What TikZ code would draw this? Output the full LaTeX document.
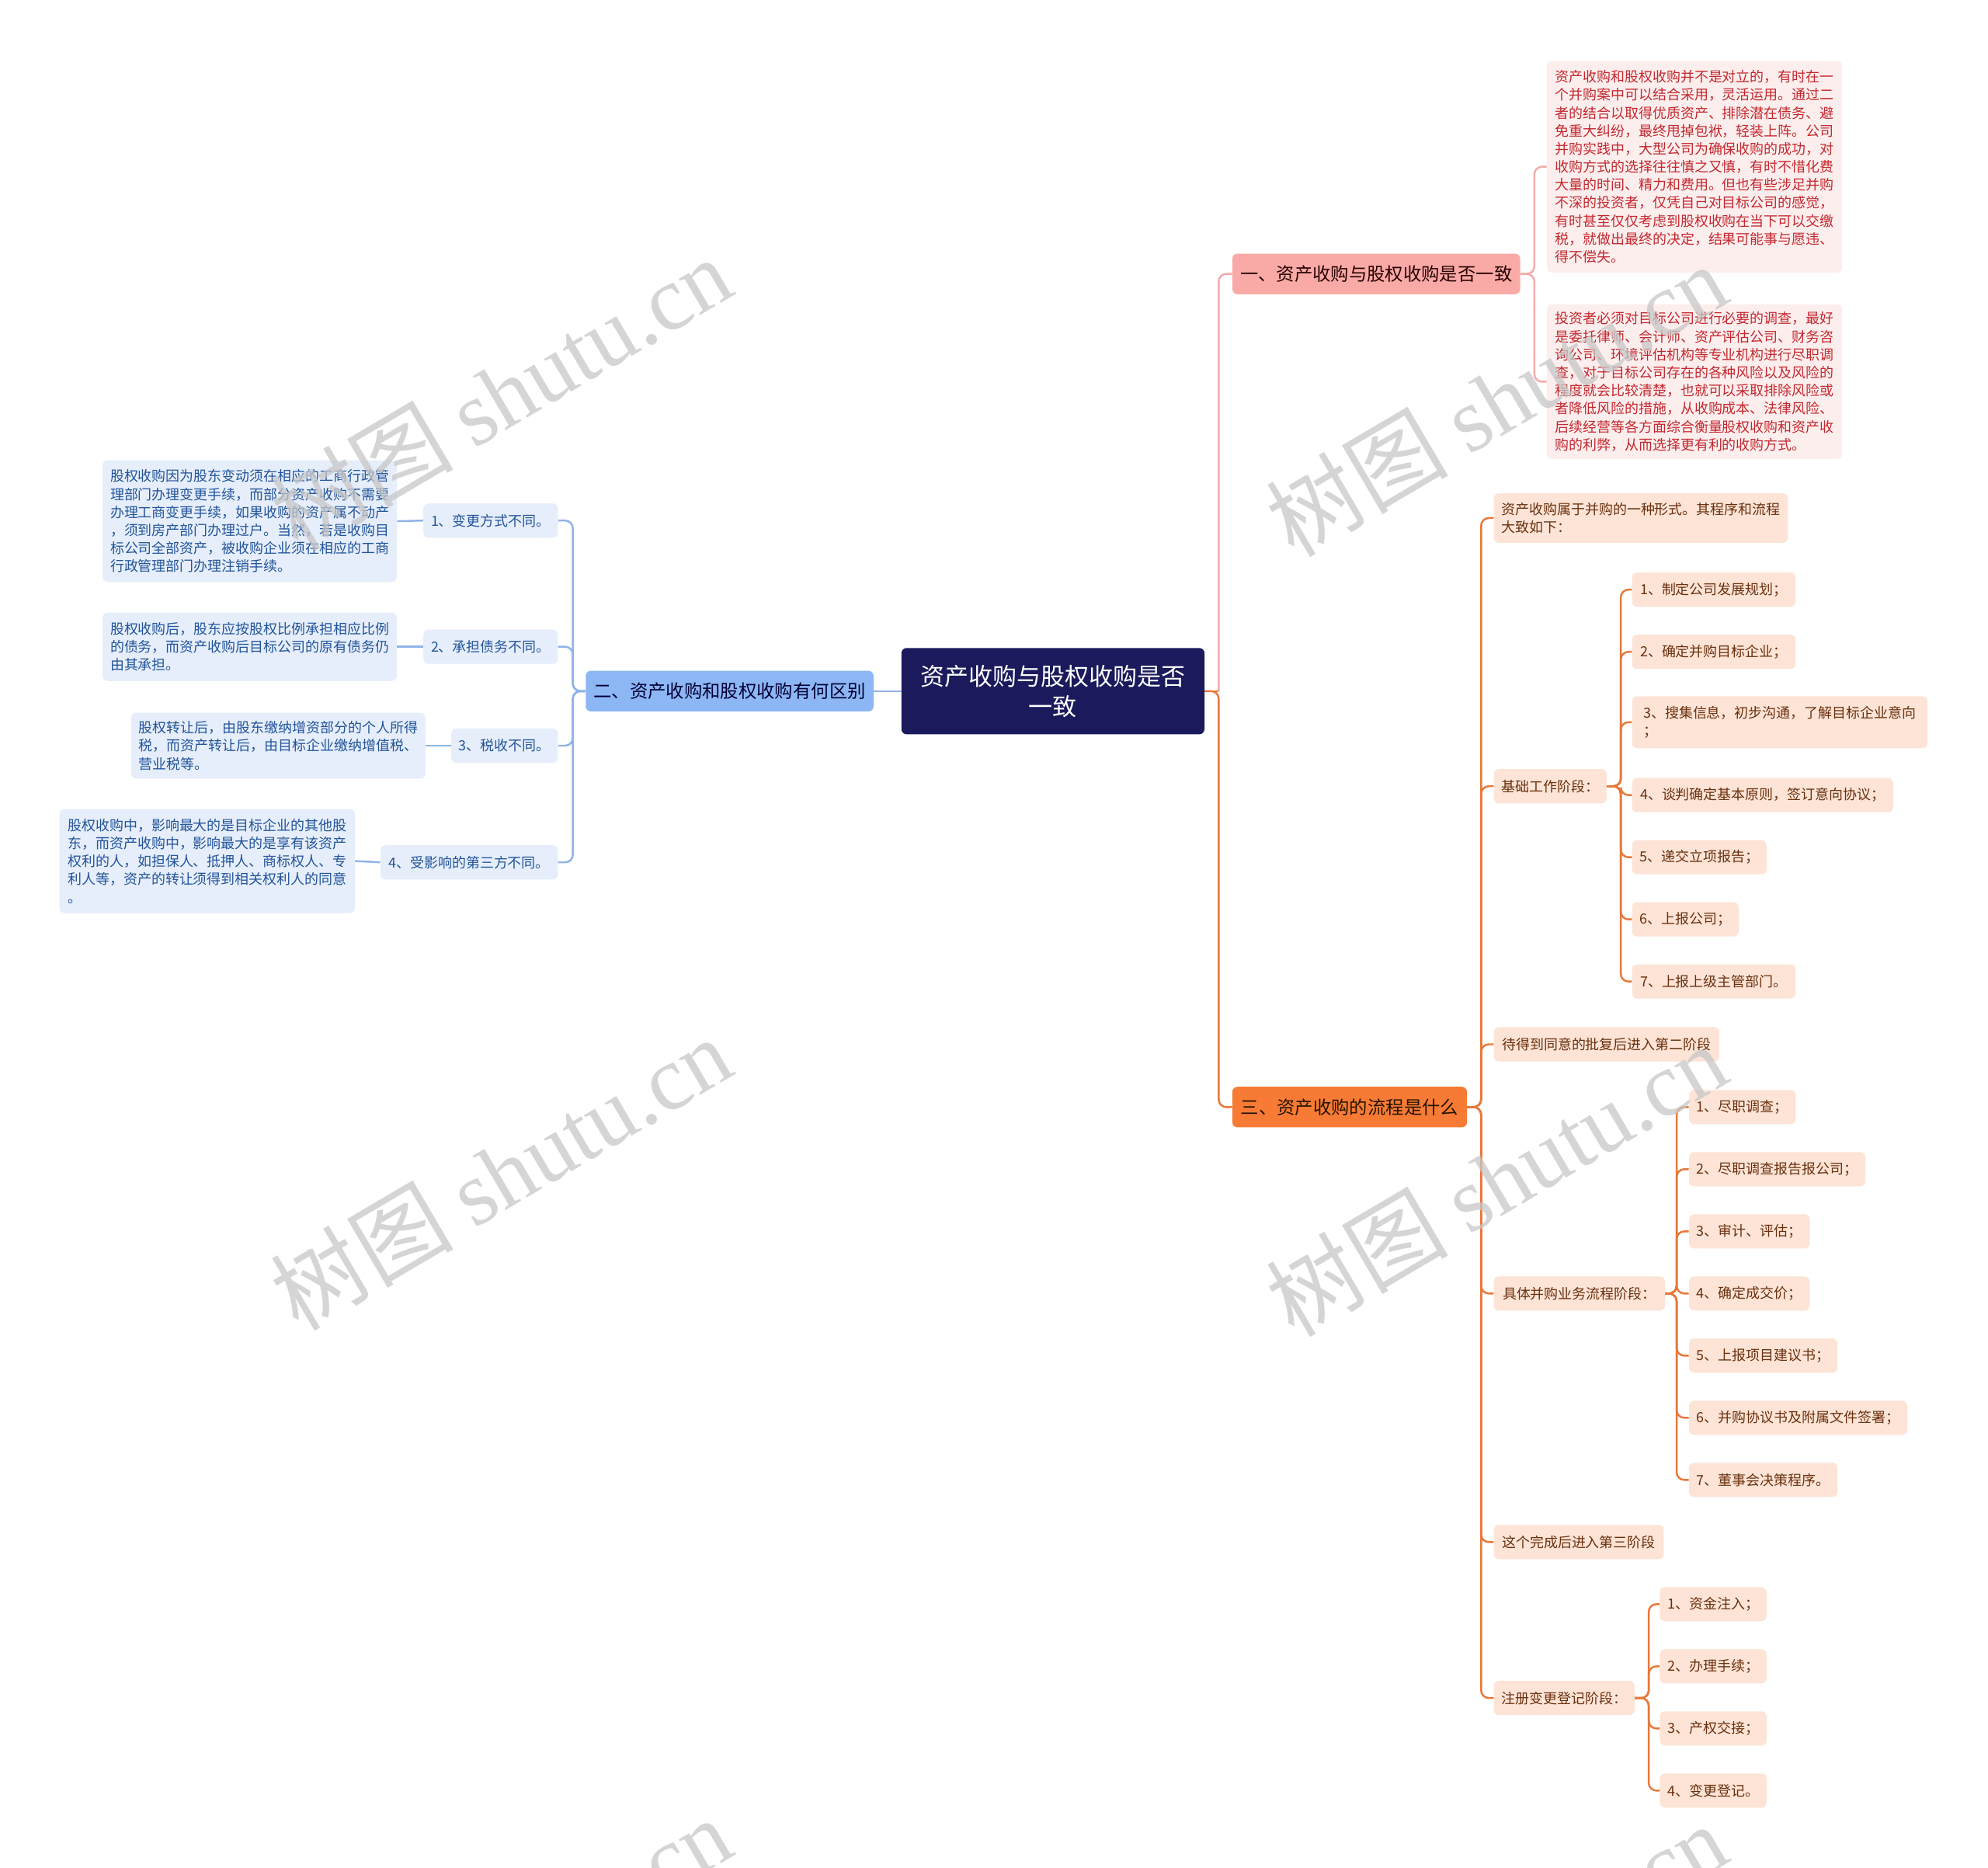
\documentclass[tikz,border=0pt]{standalone}
\usepackage{fontspec}
\setmainfont{Noto Sans CJK SC}
\newfontfamily\wmlatin{Liberation Serif}
\definecolor{navy}{RGB}{27,26,92}
\definecolor{pinkmain}{RGB}{249,170,167}
\definecolor{pinkleaf}{RGB}{253,238,238}
\definecolor{pinktext}{RGB}{195,40,46}
\definecolor{pinkline}{RGB}{242,172,170}
\definecolor{bluemain}{RGB}{141,182,245}
\definecolor{blueleaf}{RGB}{230,238,251}
\definecolor{bluetext}{RGB}{34,84,155}
\definecolor{blueline}{RGB}{143,179,232}
\definecolor{orangemain}{RGB}{247,123,52}
\definecolor{orangeleaf}{RGB}{253,228,214}
\definecolor{orangetext}{RGB}{106,48,14}
\definecolor{orangeline}{RGB}{232,120,58}
\tikzset{
  rootbox/.style={fill=navy, text=white, rounded corners=4pt, align=center,
    font=\fontsize{19}{24}\selectfont, inner sep=0pt},
  mainbox/.style={rounded corners=4pt, font=\fontsize{14.3}{17}\selectfont, inner sep=0pt, minimum height=32pt},
  leafbox/.style={rounded corners=4pt, font=\fontsize{11}{14.2}\selectfont, inner xsep=6pt, inner ysep=0pt, align=left, minimum height=27pt},
  pleaf/.style={leafbox, fill=pinkleaf, text=pinktext},
  bleaf/.style={leafbox, fill=blueleaf, text=bluetext},
  oleaf/.style={leafbox, fill=orangeleaf, text=orangetext},
  pconn/.style={draw=pinkline, line width=1.5pt, rounded corners=6pt},
  bconn/.style={draw=blueline, line width=1.5pt, rounded corners=6pt},
  oconn/.style={draw=orangeline, line width=1.5pt, rounded corners=6pt},
  wmark/.style={rotate=30.5, text=black!22, opacity=0.75, font=\fontsize{72}{72}\selectfont},
}
\begin{document}
\begin{tikzpicture}[x=1pt,y=-1pt]
\useasboundingbox (0,0) rectangle (1568,1473);
\fill[white] (0,0) rectangle (1568,1473);

% root
\node[rootbox, minimum width=239pt, minimum height=68pt] (root) at (830.5,545) {资产收购与股权收购是否\\一致};

% main branches
\node[mainbox, fill=pinkmain, text=black!85!red, minimum width=227pt] (b1) at (1085.5,216) {一、资产收购与股权收购是否一致};
\node[mainbox, fill=bluemain, text=black!80!blue, minimum width=227pt] (b2) at (575.5,545) {二、资产收购和股权收购有何区别};
\node[mainbox, fill=orangemain, text=black!85!orange, minimum width=185pt] (b3) at (1064.5,873) {三、资产收购的流程是什么};

% pink leaves
\node[pleaf, minimum width=233pt, minimum height=167pt] (p1) at (1336.5,131.5) {资产收购和股权收购并不是对立的，有时在一\\个并购案中可以结合采用，灵活运用。通过二\\者的结合以取得优质资产、排除潜在债务、避\\免重大纠纷，最终甩掉包袱，轻装上阵。公司\\并购实践中，大型公司为确保收购的成功，对\\收购方式的选择往往慎之又慎，有时不惜化费\\大量的时间、精力和费用。但也有些涉足并购\\不深的投资者，仅凭自己对目标公司的感觉，\\有时甚至仅仅考虑到股权收购在当下可以交缴\\税，就做出最终的决定，结果可能事与愿违、\\得不偿失。};
\node[pleaf, minimum width=233pt, minimum height=122pt] (p2) at (1336.5,301) {投资者必须对目标公司进行必要的调查，最好\\是委托律师、会计师、资产评估公司、财务咨\\询公司、环境评估机构等专业机构进行尽职调\\查，对于目标公司存在的各种风险以及风险的\\程度就会比较清楚，也就可以采取排除风险或\\者降低风险的措施，从收购成本、法律风险、\\后续经营等各方面综合衡量股权收购和资产收\\购的利弊，从而选择更有利的收购方式。};

% blue children
\node[bleaf, minimum width=106pt] (bc1) at (387,410.5) {1、变更方式不同。};
\node[bleaf, minimum width=106pt] (bc2) at (387,510) {2、承担债务不同。};
\node[bleaf, minimum width=84pt] (bc3) at (398,588) {3、税收不同。};
\node[bleaf, minimum width=140pt] (bc4) at (370,680) {4、受影响的第三方不同。};

% blue grandchildren
\node[bleaf, minimum width=232pt, minimum height=96pt] (bg1) at (197,411) {股权收购因为股东变动须在相应的工商行政管\\理部门办理变更手续，而部分资产收购不需要\\办理工商变更手续，如果收购的资产属不动产\\，须到房产部门办理过户。当然，若是收购目\\标公司全部资产，被收购企业须在相应的工商\\行政管理部门办理注销手续。};
\node[bleaf, minimum width=232pt, minimum height=54pt] (bg2) at (197,510) {股权收购后，股东应按股权比例承担相应比例\\的债务，而资产收购后目标公司的原有债务仍\\由其承担。};
\node[bleaf, minimum width=231pt, minimum height=52pt] (bg3) at (219.5,588) {股权转让后，由股东缴纳增资部分的个人所得\\税，而资产转让后，由目标企业缴纳增值税、\\营业税等。};
\node[bleaf, minimum width=233pt, minimum height=82pt] (bg4) at (163.5,679) {股权收购中，影响最大的是目标企业的其他股\\东，而资产收购中，影响最大的是享有该资产\\权利的人，如担保人、抵押人、商标权人、专\\利人等，资产的转让须得到相关权利人的同意\\。};

% orange level 2
\node[oleaf, anchor=west, minimum width=232pt, minimum height=39pt] (o1) at (1178,408.5) {资产收购属于并购的一种形式。其程序和流程\\大致如下：};
\node[oleaf, anchor=west, minimum width=88pt] (o2) at (1178,620) {基础工作阶段：};
\node[oleaf, anchor=west, minimum width=178pt] (o3) at (1178,823.5) {待得到同意的批复后进入第二阶段};
\node[oleaf, anchor=west, minimum width=135pt] (o4) at (1178,1020) {具体并购业务流程阶段：};
\node[oleaf, anchor=west, minimum width=134pt] (o5) at (1178,1216) {这个完成后进入第三阶段};
\node[oleaf, anchor=west, minimum width=110pt] (o6) at (1178,1339) {注册变更登记阶段：};

% under o2
\node[oleaf, anchor=west, minimum width=129pt] (a1) at (1287,465) {1、制定公司发展规划；};
\node[oleaf, anchor=west, minimum width=129pt] (a2) at (1287,514) {2、确定并购目标企业；};
\node[oleaf, anchor=west, minimum width=233pt, minimum height=41pt] (a3) at (1287,569.5) {3、搜集信息，初步沟通，了解目标企业意向\\；};
\node[oleaf, anchor=west, minimum width=206pt] (a4) at (1287,627) {4、谈判确定基本原则，签订意向协议；};
\node[oleaf, anchor=west, minimum width=106pt] (a5) at (1287,676) {5、递交立项报告；};
\node[oleaf, anchor=west, minimum width=84pt] (a6) at (1287,725) {6、上报公司；};
\node[oleaf, anchor=west, minimum width=129pt] (a7) at (1287,774) {7、上报上级主管部门。};

% under o4
\node[oleaf, anchor=west, minimum width=83pt] (d1) at (1332,873) {1、尽职调查；};
\node[oleaf, anchor=west, minimum width=139pt] (d2) at (1332,922) {2、尽职调查报告报公司；};
\node[oleaf, anchor=west, minimum width=94pt] (d3) at (1332,971) {3、审计、评估；};
\node[oleaf, anchor=west, minimum width=94pt] (d4) at (1332,1020) {4、确定成交价；};
\node[oleaf, anchor=west, minimum width=116pt] (d5) at (1332,1069) {5、上报项目建议书；};
\node[oleaf, anchor=west, minimum width=172pt] (d6) at (1332,1118) {6、并购协议书及附属文件签署；};
\node[oleaf, anchor=west, minimum width=116pt] (d7) at (1332,1167) {7、董事会决策程序。};

% under o6
\node[oleaf, anchor=west, minimum width=84pt] (r1) at (1309,1265) {1、资金注入；};
\node[oleaf, anchor=west, minimum width=84pt] (r2) at (1309,1314) {2、办理手续；};
\node[oleaf, anchor=west, minimum width=84pt] (r3) at (1309,1363) {3、产权交接；};
\node[oleaf, anchor=west, minimum width=84pt] (r4) at (1309,1412) {4、变更登记。};

% connectors
\draw[oconn] (root.east) -- ++(11,0) |- (b3.west);
\draw[pconn] (root.east) ++(11,0) |- (b1.west);
\draw[oconn] (root.east) -- ++(11,0);
\draw[bconn] (root.west) -- (b2.east);

\foreach \c in {p1,p2} \draw[pconn] (b1.east) -- ++(11,0) |- (\c.west);
\foreach \c in {bc1,bc2,bc3,bc4} \draw[bconn] (b2.west) -- ++(-10,0) |- (\c.east);
\draw[bconn] (bc1.west) -- (bg1.east);
\draw[bconn] (bc2.west) -- (bg2.east);
\draw[bconn] (bc3.west) -- (bg3.east);
\draw[bconn] (bc4.west) -- (bg4.east);

\foreach \c in {o1,o2,o3,o4,o5,o6} \draw[oconn] (b3.east) -- ++(11,0) |- (\c.west);
\foreach \c in {a1,a2,a3,a4,a5,a6,a7} \draw[oconn] (o2.east) -- ++(11,0) |- (\c.west);
\foreach \c in {d1,d2,d3,d4,d5,d6,d7} \draw[oconn] (o4.east) -- ++(9,0) |- (\c.west);
\foreach \c in {r1,r2,r3,r4} \draw[oconn] (o6.east) -- ++(11,0) |- (\c.west);

% watermarks
\begin{scope}
\clip (0,0) rectangle (1568,1473);
\foreach \wx/\wy [count=\i] in {395/310,395/925,395/1540,1180/315,1180/930,1180/1545}
  \node[wmark] (wm\i) at (\wx,\wy) {树图 {\wmlatin shutu.cn}};
\end{scope}
\end{tikzpicture}
\end{document}
